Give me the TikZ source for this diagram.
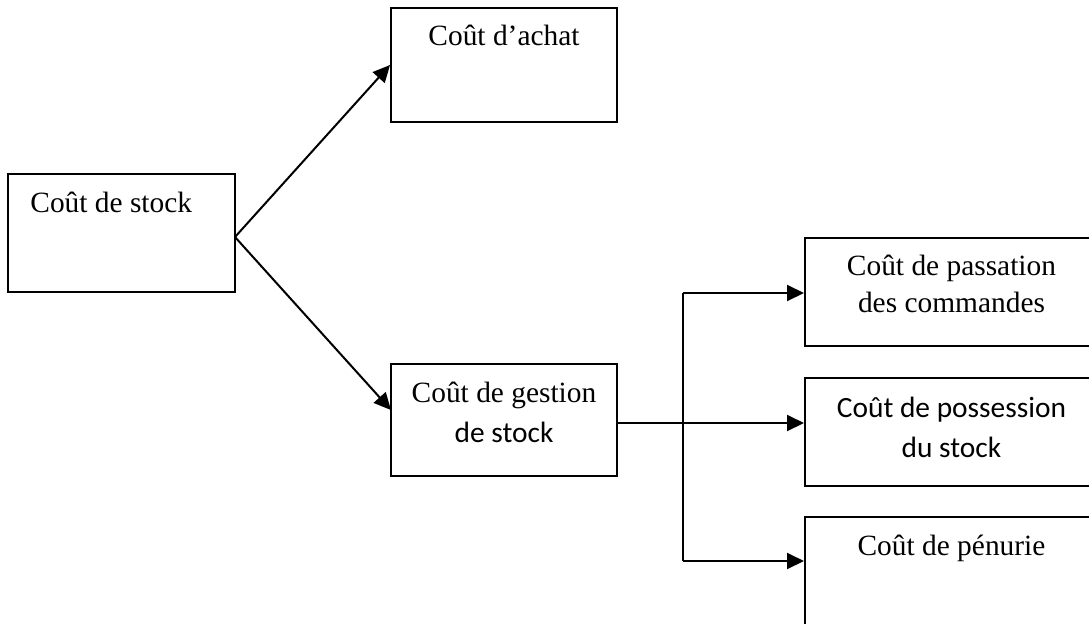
\documentclass[tikz,border=0pt]{standalone}
\usepackage{fontspec}
\setmainfont{Liberation Serif}
\newfontfamily\calib{Carlito}
\usetikzlibrary{arrows.meta}
\begin{document}
\begin{tikzpicture}[x=0.5pt,y=-0.5pt,
  box/.style={draw,line width=1pt,inner sep=0pt,rectangle},
  lbl/.style={anchor=base,inner sep=0pt,font=\fontsize{14.7}{17}\selectfont},
  conn/.style={line width=1pt},
  arr/.style={conn,-{Triangle[length=8.5pt,width=8pt]}}]
\useasboundingbox (0,0) rectangle (1089,623);
\clip (0,0) rectangle (1089,623);
% boxes
\node[box,minimum width=113.5pt,minimum height=59pt] (b1) at (121.5,233) {};
\node[box,minimum width=113pt,minimum height=57pt] (b2) at (504,65) {};
\node[box,minimum width=113pt,minimum height=56pt] (b3) at (504,420) {};
\node[box,minimum width=147.5pt,minimum height=54pt] (b4) at (952.5,292) {};
\node[box,minimum width=147.5pt,minimum height=54pt] (b5) at (952.5,432) {};
\node[box,minimum width=147.5pt,minimum height=61.5pt] (b6) at (952.5,578.5) {};
% labels
\node[lbl,anchor=base west] (t1) at (30,212) {Coût de stock};
\node[lbl] (t2) at (504,45) {Coût d’achat};
\node[lbl] (t3a) at (504,402) {Coût de gestion};
\node[lbl,font=\fontsize{14.7}{17}\selectfont\calib] (t3b) at (504,442) {de stock};
\node[lbl] (t4a) at (951.5,275) {Coût de passation};
\node[lbl] (t4b) at (951.5,312) {des commandes};
\node[lbl,font=\fontsize{14.7}{17}\selectfont\calib] (t5a) at (951.5,417) {Coût de possession};
\node[lbl,font=\fontsize{14.7}{17}\selectfont\calib] (t5b) at (951.5,457) {du stock};
\node[lbl] (t6) at (951.5,555) {Coût de pénurie};
% connectors
\coordinate (s) at (235,237);
\coordinate (jt) at (683,293);
\coordinate (jm) at (683,423);
\coordinate (jb) at (683,561);
\draw[arr] (s) -- (b2.west);
\draw[arr] (s) -- (391,410);
\draw[arr] (b3.east|-jm) -- (b5.west|-jm);
\draw[conn] (jt) -- (jb);
\draw[arr] (jt) -- (b4.west|-jt);
\draw[arr] (jb) -- (b6.west|-jb);
\end{tikzpicture}
\end{document}
